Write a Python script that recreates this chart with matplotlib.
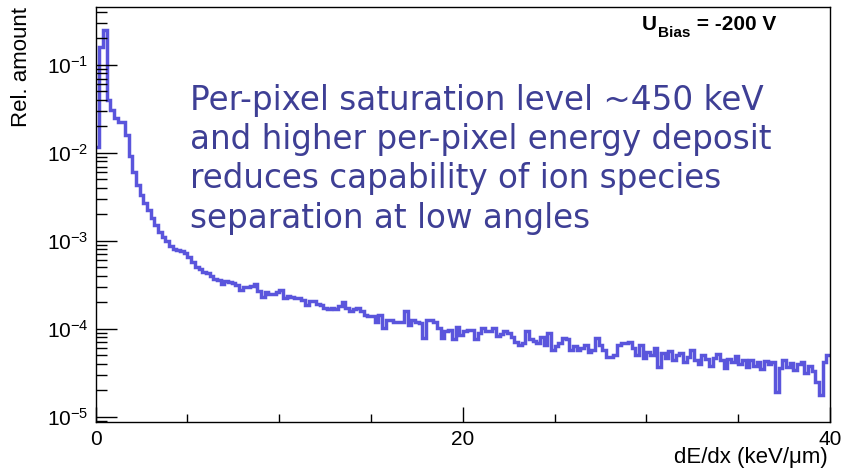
import numpy as np
import matplotlib
matplotlib.use("Agg")
import matplotlib.pyplot as plt
from matplotlib.ticker import LogLocator, MultipleLocator, NullFormatter, FixedLocator

plt.rcParams['font.family'] = ['Liberation Sans', 'DejaVu Sans']
plt.rcParams['mathtext.fontset'] = 'custom'
plt.rcParams['mathtext.rm'] = 'Liberation Sans'
plt.rcParams['mathtext.it'] = 'Liberation Sans:italic'
plt.rcParams['mathtext.bf'] = 'Liberation Sans:bold'

# ---- data ----
bin_width = 0.2           # keV/um
x_min, x_max = 0.0, 40.0
# log10 of relative amount per bin, 200 bins from 0 to 40 keV/um
log10_rel_amount = [
    -1.93, -0.80, -0.60, -1.40, -1.51, -1.60, -1.65, -1.65, -1.80, -2.03,
    -2.22, -2.36, -2.48, -2.57, -2.65, -2.74, -2.82, -2.90, -2.96, -3.00,
    -3.06, -3.09, -3.10, -3.12, -3.14,
    -3.18, -3.24, -3.30, -3.32, -3.35, -3.37, -3.40, -3.43, -3.45, -3.49,
    -3.46, -3.47, -3.48, -3.50, -3.56, -3.52, -3.52, -3.51, -3.49, -3.57,
    -3.64, -3.58, -3.60, -3.60, -3.58,
    -3.56, -3.65, -3.63, -3.64, -3.65, -3.65, -3.67, -3.73, -3.69, -3.69,
    -3.72, -3.73, -3.76, -3.78, -3.76, -3.77, -3.74, -3.70, -3.76, -3.80,
    -3.78, -3.76, -3.80, -3.84, -3.86,
    -3.86, -3.92, -3.84, -3.99, -3.90, -3.90, -3.92, -3.92, -3.92, -3.80,
    -3.96, -3.90, -3.92, -3.93, -4.10, -3.90, -3.90, -3.92, -3.99, -4.10,
    -4.02, -4.01, -4.12, -3.98, -4.07,
    -4.03, -4.01, -4.01, -4.12, -4.05, -3.99, -4.02, -4.03, -3.99, -4.08,
    -4.06, -4.03, -4.05, -4.09, -4.15, -4.18, -4.16, -4.03, -4.12, -4.14,
    -4.16, -4.09, -4.18, -4.05, -4.24,
    -4.20, -4.16, -4.10, -4.12, -4.24, -4.20, -4.24, -4.22, -4.18, -4.26,
    -4.24, -4.10, -4.18, -4.24, -4.32, -4.32, -4.30, -4.18, -4.16, -4.16,
    -4.15, -4.22, -4.30, -4.18, -4.33,
    -4.27, -4.30, -4.22, -4.43, -4.28, -4.33, -4.25, -4.36, -4.30, -4.28,
    -4.38, -4.32, -4.24, -4.35, -4.40, -4.30, -4.34, -4.42, -4.33, -4.29,
    -4.36, -4.45, -4.34, -4.38, -4.31,
    -4.40, -4.36, -4.44, -4.35, -4.42, -4.38, -4.46, -4.37, -4.40, -4.38,
    -4.72, -4.45, -4.36, -4.44, -4.39, -4.47, -4.40, -4.38, -4.50, -4.42,
    -4.48, -4.60, -4.75, -4.38, -4.30,
]
y_min, y_max = 8.7e-6, 0.456

x_label = "dE/dx (keV/\u03bcm)"
y_label = "Rel. amount"
bias_main, bias_sub, bias_rest = "U", "Bias", " = -200 V"
note = ("Per-pixel saturation level ~450 keV\n"
        "and higher per-pixel energy deposit\n"
        "reduces capability of ion species\n"
        "separation at low angles")

# ---- plot ----
values = 10.0 ** np.array(log10_rel_amount)
edges = np.linspace(x_min, x_max, len(values) + 1)

W, H = 841, 472
fig = plt.figure(figsize=(W / 100, H / 100), dpi=100)
ax = fig.add_axes([95.7 / W, 1 - 422 / H, (830 - 95.7) / W, (422 - 7) / H])

ax.stairs(values, edges, baseline=None, color='#5a55dc', lw=2.5)

ax.set_yscale('log')
ax.set_xlim(x_min, x_max)
ax.set_ylim(y_min, y_max)

ax.xaxis.set_major_locator(FixedLocator([0, 20, 40]))
ax.xaxis.set_minor_locator(MultipleLocator(5))
ax.yaxis.set_major_locator(LogLocator(base=10, numticks=10))
ax.yaxis.set_minor_locator(LogLocator(base=10, subs=np.arange(2, 10), numticks=20))
ax.yaxis.set_minor_formatter(NullFormatter())

ax.tick_params(axis='both', which='both', direction='in', top=False, right=False,
               labelsize=15, colors='black', width=1.0)
ax.tick_params(axis='y', which='major', length=15, pad=5)
ax.tick_params(axis='y', which='minor', length=8)
ax.tick_params(axis='x', which='major', length=11, pad=6)
ax.tick_params(axis='x', which='minor', length=6)
for s in ax.spines.values():
    s.set_linewidth(1.0)

fig.text(22 / W, 1 - 7 / H, y_label, rotation=90, ha='center', va='top', fontsize=16)
fig.text(828 / W, 1 - 457 / H, x_label, ha='right', va='center', fontsize=16)

# U_Bias label built from pieces
renderer = fig.canvas.get_renderer()
t1 = fig.text(642 / W, 1 - 30 / H, bias_main, ha='left', va='baseline',
              fontsize=15, fontweight='bold')
bb1 = t1.get_window_extent(renderer)
t2 = fig.text((bb1.x1 + 1) / W, 1 - 37 / H, bias_sub, ha='left', va='baseline',
              fontsize=11, fontweight='bold')
bb2 = t2.get_window_extent(renderer)
fig.text((bb2.x1 + 1) / W, 1 - 30 / H, bias_rest, ha='left', va='baseline',
         fontsize=15, fontweight='bold')

fig.text(190 / W, 1 - 84 / H, note, ha='left', va='top', fontsize=23.5,
         color='#3e3f95', family=['DejaVu Sans'], linespacing=1.24)

fig.savefig('out.png', dpi=100)
